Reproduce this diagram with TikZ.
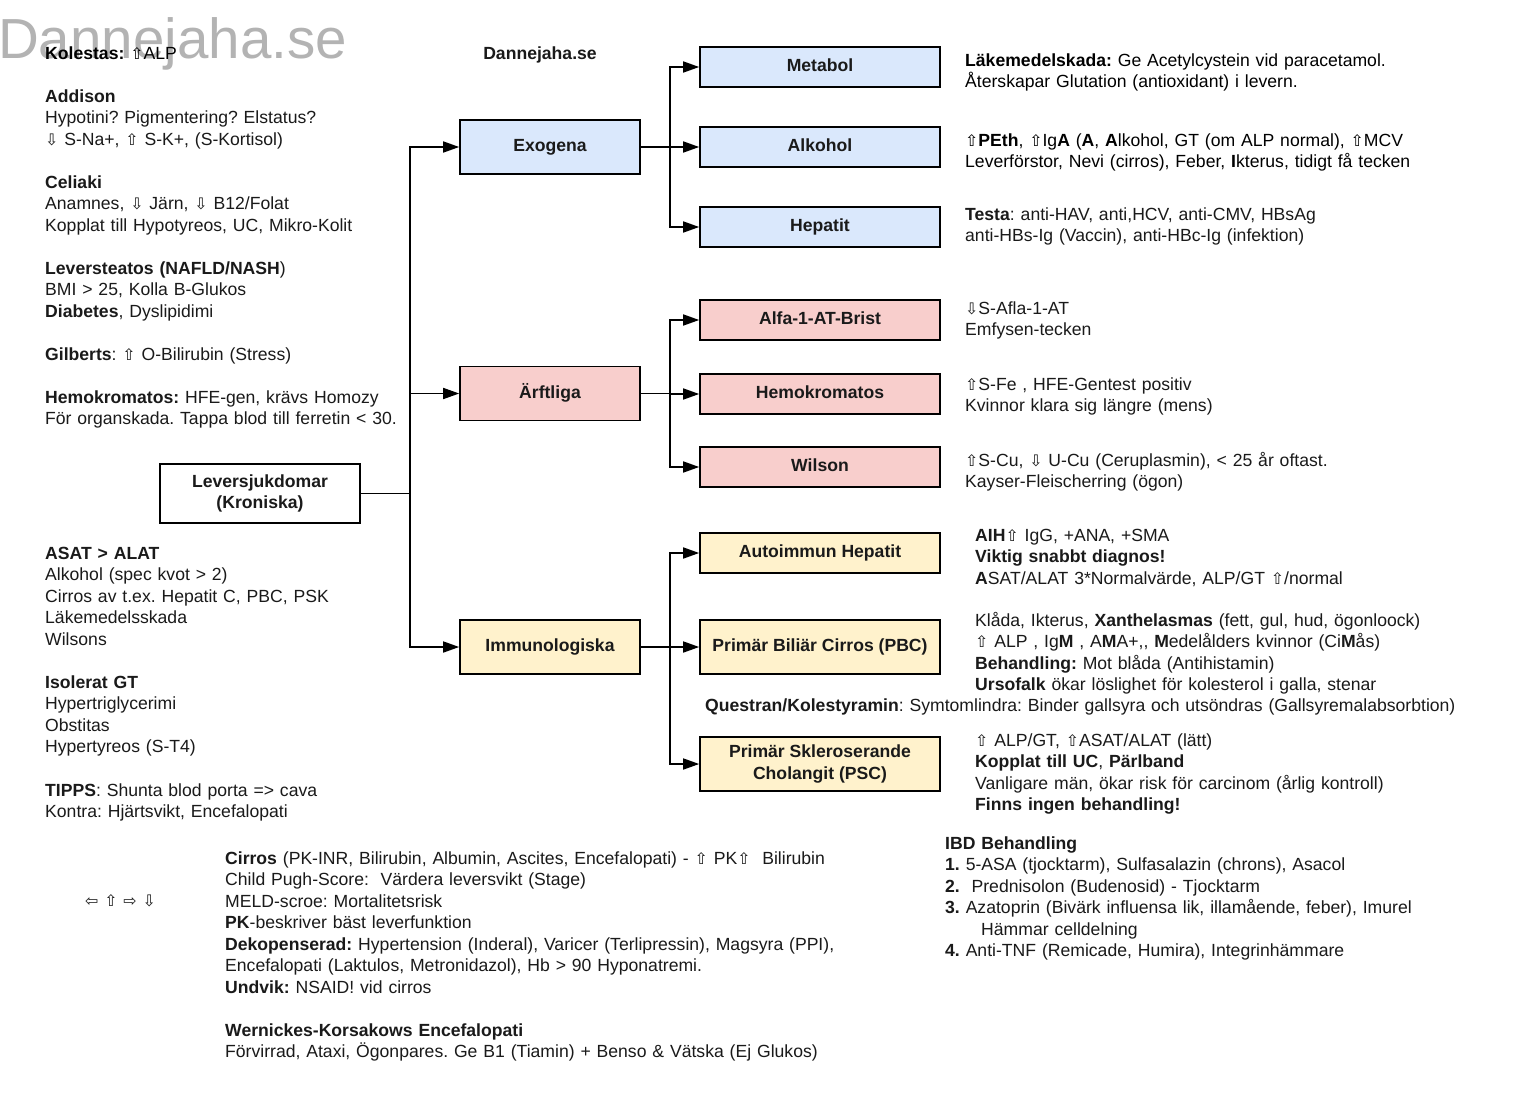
\documentclass[tikz,border=0pt]{standalone}
\usepackage{fontspec}
\setmainfont{Liberation Sans}
\newfontfamily\symfont{DejaVu Sans}[Scale=0.9]
\usepackage{xcolor}
\usetikzlibrary{arrows.meta}

\definecolor{exoblue}{HTML}{DAE8FC}
\definecolor{arfred}{HTML}{F8CECC}
\definecolor{immyellow}{HTML}{FFF2CC}
\definecolor{txtgray}{HTML}{1A1A1A}
\definecolor{markgray}{HTML}{B3B3B3}

\newcommand{\arrup}{{\symfont ⇧}}
\newcommand{\arrdown}{{\symfont ⇩}}
\newcommand{\arrleft}{{\symfont ⇦}}
\newcommand{\arrright}{{\symfont ⇨}}
\newcommand{\txtfont}{\fontsize{17.6pt}{21.5pt}\selectfont\frenchspacing}

\begin{document}
\begin{tikzpicture}[x=1pt, y=-1pt, font=\txtfont, text=txtgray]
    \tikzstyle{box}=[draw=black, line width=1.6pt, inner sep=2pt, align=center,
            font=\txtfont\bfseries]
    \tikzstyle{onerow}=[text height=13pt, text depth=4pt]
    \tikzstyle{catbox}=[box, onerow, minimum width=180pt, minimum height=54pt]
    \tikzstyle{subbox}=[box, onerow, minimum width=240pt, minimum height=40pt]
    \tikzstyle{note}=[anchor=base west, inner sep=0pt, text width=820pt, align=left]
    \tikzstyle{arrow}=[line width=1.6pt, -{Triangle[length=16pt, width=11pt]}]

    \fill[white] (0,0) rectangle (1540,1112);
    \useasboundingbox (0,0) rectangle (1540,1112);

    % watermark
    \node[anchor=base west, inner sep=0pt, text=markgray,
        font=\fontsize{56.5pt}{60pt}\selectfont] (mark) at (-2,58) {Dannejaha.se};
    \node[anchor=base, inner sep=0pt, font=\txtfont\bfseries]
        (site) at (540,59) {Dannejaha.se};

    % boxes
    \node[box, minimum width=200pt, minimum height=59pt, fill=white] (root)
        at (260,493.5) {Leversjukdomar\\(Kroniska)};

    \node[catbox, fill=exoblue] (exogena) at (550,147) {Exogena};
    \node[catbox, fill=arfred] (arftliga) at (550,393.5) {Ärftliga};
    \node[catbox, fill=immyellow] (immun) at (550,647) {Immunologiska};

    \node[subbox, fill=exoblue] (metabol) at (820,67) {Metabol};
    \node[subbox, fill=exoblue] (alkohol) at (820,147) {Alkohol};
    \node[subbox, fill=exoblue] (hepatit) at (820,227) {Hepatit};

    \node[subbox, fill=arfred] (alfa) at (820,320) {Alfa-1-AT-Brist};
    \node[subbox, fill=arfred] (hemo) at (820,394) {Hemokromatos};
    \node[subbox, fill=arfred] (wilson) at (820,467) {Wilson};

    \node[subbox, fill=immyellow] (aih) at (820,553) {Autoimmun Hepatit};
    \node[subbox, fill=immyellow, minimum height=54pt] (pbc) at (820,647)
        {Primär Biliär Cirros (PBC)};
    \node[box, fill=immyellow, minimum width=240pt, minimum height=54pt] (psc)
        at (820,764) {Primär Skleroserande\\Cholangit (PSC)};

    % connectors
    \coordinate (jroot) at (410,493.5);
    \coordinate (jexo) at (670,147);
    \coordinate (jarf) at (670,393.5);
    \coordinate (jimm) at (670,647);

    \foreach \c in {exogena, arftliga, immun}
    {
        \draw[arrow] (root.east) -- (jroot) |- (\c.west);
    }
    \foreach \c in {metabol, alkohol, hepatit}
    {
        \draw[arrow] (exogena.east) -- (jexo) |- (\c.west);
    }
    \foreach \c in {alfa, hemo, wilson}
    {
        \draw[arrow] (arftliga.east) -- (jarf) |- (\c.west);
    }
    \foreach \c in {aih, pbc, psc}
    {
        \draw[arrow] (immun.east) -- (jimm) |- (\c.west);
    }

    % left column
    \node[note, text=black] (kolestas) at (45,59) {\textbf{Kolestas:} \arrup ALP};
    \node[note] (addison) at (45,102) {\textbf{Addison}\\
        Hypotini? Pigmentering? Elstatus?\\
        \arrdown\ S-Na+, \arrup\ S-K+, (S-Kortisol)};
    \node[note] (celiaki) at (45,188) {\textbf{Celiaki}\\
        Anamnes, \arrdown\ Järn, \arrdown\ B12/Folat\\
        Kopplat till Hypotyreos, UC, Mikro-Kolit};
    \node[note] (steatos) at (45,274) {\textbf{Leversteatos (NAFLD/NASH})\\
        BMI > 25, Kolla B-Glukos\\
        \textbf{Diabetes}, Dyslipidimi};
    \node[note] (gilberts) at (45,360) {\textbf{Gilberts}: \arrup\ O-Bilirubin (Stress)};
    \node[note] (hemokrom) at (45,403) {\textbf{Hemokromatos:} HFE-gen, krävs Homozy\\
        För organskada. Tappa blod till ferretin < 30.};

    \node[note] (asat) at (45,559) {\textbf{ASAT > ALAT}\\
        Alkohol (spec kvot > 2)\\
        Cirros av t.ex. Hepatit C, PBC, PSK\\
        Läkemedelsskada\\
        Wilsons};
    \node[note] (isogt) at (45,688) {\textbf{Isolerat GT}\\
        Hypertriglycerimi\\
        Obstitas\\
        Hypertyreos (S-T4)};
    \node[note] (tipps) at (45,796) {\textbf{TIPPS}: Shunta blod porta => cava\\
        Kontra: Hjärtsvikt, Encefalopati};

    % right column
    \node[note, text=black] (metabolnote) at (965,66)
        {\textbf{Läkemedelskada:} Ge Acetylcystein vid paracetamol.\\
        Återskapar Glutation (antioxidant) i levern.};
    \node[note, text=black] (alkoholnote) at (965,146)
        {\arrup\textbf{PEth}, \arrup Ig\textbf{A} (\textbf{A}, \textbf{A}lkohol, GT (om ALP normal), \arrup MCV\\
        Leverförstor, Nevi (cirros), Feber, \textbf{I}kterus, tidigt få tecken};
    \node[note] (hepatitnote) at (965,220)
        {\textbf{Testa}: anti-HAV, anti,HCV, anti-CMV, HBsAg\\
        anti-HBs-Ig (Vaccin), anti-HBc-Ig (infektion)};
    \node[note] (alfanote) at (965,314) {\arrdown S-Afla-1-AT\\Emfysen-tecken};
    \node[note] (hemonote) at (965,390)
        {\arrup S-Fe , HFE-Gentest positiv\\Kvinnor klara sig längre (mens)};
    \node[note] (wilsonnote) at (965,466)
        {\arrup S-Cu, \arrdown\ U-Cu (Ceruplasmin), < 25 år oftast.\\Kayser-Fleischerring (ögon)};

    \node[note] (aihnote) at (975,541) {\textbf{AIH}\arrup\ IgG, +ANA, +SMA\\
        \textbf{Viktig snabbt diagnos!}\\
        \textbf{A}SAT/ALAT 3*Normalvärde, ALP/GT \arrup/normal};
    \node[note] (pbcnote) at (975,626)
        {Klåda, Ikterus, \textbf{Xanthelasmas} (fett, gul, hud, ögonloock)\\
        \arrup\ ALP , Ig\textbf{M} , A\textbf{M}A+,{},  \textbf{M}edelålders kvinnor (Ci\textbf{M}ås)\\
        \textbf{Behandling:} Mot blåda (Antihistamin)\\
        \textbf{Ursofalk} ökar löslighet för kolesterol i galla, stenar};
    \node[note] (questran) at (705,711)
        {\textbf{Questran/Kolestyramin}: Symtomlindra: Binder gallsyra och utsöndras (Gallsyremalabsorbtion)};
    \node[note] (pscnote) at (975,746) {\arrup\ ALP/GT, \arrup ASAT/ALAT (lätt)\\
        \textbf{Kopplat till UC}, \textbf{Pärlband}\\
        Vanligare män, ökar risk för carcinom (årlig kontroll)\\
        \textbf{Finns ingen behandling!}};

    \node[note] (ibd) at (945,849) {\textbf{IBD Behandling}\\
        \textbf{1.} 5-ASA (tjocktarm), Sulfasalazin (chrons), Asacol\\
        \textbf{2.}\ \ Prednisolon (Budenosid) - Tjocktarm\\
        \textbf{3.} Azatoprin (Bivärk influensa lik, illamående, feber), Imurel\\
        \hspace*{36pt}Hämmar celldelning\\
        \textbf{4.} Anti-TNF (Remicade, Humira), Integrinhämmare};

    % bottom
    \node[note] (arrows) at (85,906) {\arrleft\ \arrup\ \arrright\ \arrdown};
    \node[note] (cirros) at (225,864)
        {\textbf{Cirros} (PK-INR, Bilirubin, Albumin, Ascites, Encefalopati) - \arrup\ PK\arrup\ \ Bilirubin\\
        Child Pugh-Score:\ \ Värdera leversvikt (Stage)\\
        MELD-scroe: Mortalitetsrisk\\
        \textbf{PK}-beskriver bäst leverfunktion\\
        \textbf{Dekopenserad:} Hypertension (Inderal), Varicer (Terlipressin), Magsyra (PPI),\\
        Encefalopati (Laktulos, Metronidazol), Hb > 90 Hyponatremi.\\
        \textbf{Undvik:} NSAID! vid cirros\\[21.5pt]
        \textbf{Wernickes-Korsakows Encefalopati}\\
        Förvirrad, Ataxi, Ögonpares. Ge B1 (Tiamin) + Benso \& Vätska (Ej Glukos)};

\end{tikzpicture}
\end{document}
